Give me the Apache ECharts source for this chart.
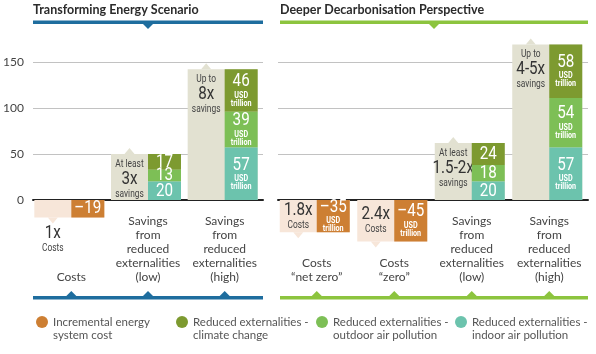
<!DOCTYPE html>
<html>
<head>
<meta charset="utf-8">
<script src="https://cdn.jsdelivr.net/npm/echarts@6/dist/echarts.min.js"></script>
<style>
  html, body { margin: 0; padding: 0; background: #fff; }
  #chart { width: 596px; height: 354px; }
</style>
</head>
<body>
<div id="chart"></div>
<script>
// Transforming Energy Scenario
const leftCategories = ['Costs', 'Savings\nfrom\nreduced\nexternalities\n(low)', 'Savings\nfrom\nreduced\nexternalities\n(high)'];
const leftCost = [-19, null, null];
const leftClimate = [null, 17, 46];
const leftOutdoor = [null, 13, 39];
const leftIndoor = [null, 20, 57];
const leftPrefix = ['', 'At least', 'Up to'];
const leftMultiple = ['1x', '3x', '8x'];
const leftSuffix = ['Costs', 'savings', 'savings'];

// Deeper Decarbonisation Perspective
const rightCategories = ['Costs\n“net zero”', 'Costs\n“zero”', 'Savings\nfrom\nreduced\nexternalities\n(low)', 'Savings\nfrom\nreduced\nexternalities\n(high)'];
const rightCost = [-35, -45, null, null];
const rightClimate = [null, null, 24, 58];
const rightOutdoor = [null, null, 18, 54];
const rightIndoor = [null, null, 20, 57];
const rightPrefix = ['', '', 'At least', 'Up to'];
const rightMultiple = ['1.8x', '2.4x', '1.5-2x', '4-5x'];
const rightSuffix = ['Costs', 'Costs', 'savings', 'savings'];

const yTicks = [0, 50, 100, 150];
const seriesNames = [
  'Incremental energy system cost',
  'Reduced externalities - climate change',
  'Reduced externalities - outdoor air pollution',
  'Reduced externalities - indoor air pollution'
];
const legendLabels = [
  ['Incremental energy', 'system cost'],
  ['Reduced externalities -', 'climate change'],
  ['Reduced externalities -', 'outdoor air pollution'],
  ['Reduced externalities -', 'indoor air pollution']
];

const COLORS = ['#cd7f33', '#7d9a30', '#7dbf56', '#6cc3ad'];
const BLUE = '#1e6d9e';
const GREEN = '#8cc43e';
const BAR_W = 33;
const NOTE_W = 37;
const legendLeft = [31, 171, 311, 450];

const chart = echarts.init(document.getElementById('chart'));

function condText(x, y, text, size, color, weight) {
  return {
    type: 'text', x: x, y: y, scaleX: 0.8,
    style: {
      text: text, x: 0, y: 0, textAlign: 'center', textVerticalAlign: 'middle',
      fontFamily: 'Roboto', fontSize: size, fontWeight: weight || 'normal', fill: color
    }
  };
}

function renderSegment(params, api) {
  const i = api.value(0);
  const a = api.coord([i, api.value(1)]);
  const b = api.coord([i, api.value(2)]);
  const v = api.value(3);
  const top = Math.min(a[1], b[1]);
  const h = Math.abs(a[1] - b[1]);
  const cx = a[0] + BAR_W / 2;
  const children = [{
    type: 'rect', shape: { x: a[0], y: top, width: BAR_W, height: h },
    style: { fill: api.visual('color') }
  }];
  const showUnit = Math.abs(v) >= 30;
  const blockH = showUnit ? 36 : 18;
  const y = top + (h - blockH) / 2;
  children.push(condText(cx, y + 9, String(v).replace('-', '–'), 19, '#fff'));
  if (showUnit) {
    children.push(condText(cx, y + 23, 'USD', 9, '#fff', 'bold'));
    children.push(condText(cx, y + 31, 'trillion', 9, '#fff', 'bold'));
  }
  return { type: 'group', children: children };
}

function makeNoteRender(prefix, multiple, suffix) {
  return function (params, api) {
    const i = api.value(0);
    const total = api.value(1);
    const a = api.coord([i, 0]);
    const b = api.coord([i, total]);
    const left = a[0] - NOTE_W;
    const mid = left + NOTE_W / 2;
    const top = Math.min(a[1], b[1]);
    const h = Math.abs(a[1] - b[1]);
    const isCost = total < 0;
    const children = [{
      type: 'rect', shape: { x: left, y: top, width: NOTE_W + BAR_W, height: h },
      style: { fill: isCost ? '#f7e6d9' : '#e2e1d1' }
    }];
    let ty;
    if (isCost) {
      children.push({ type: 'polygon', shape: { points: [[mid - 5, top + h], [mid + 5, top + h], [mid, top + h + 6]] }, style: { fill: '#f7e6d9' } });
      ty = h >= 26 ? top + (h - 30) / 2 : top + h + 7;
    } else {
      children.push({ type: 'polygon', shape: { points: [[mid - 5, top], [mid + 5, top], [mid, top - 6]] }, style: { fill: '#e2e1d1' } });
      ty = top + 4;
    }
    let y = ty;
    if (prefix[i]) {
      children.push(condText(mid, y + 6, prefix[i], 10.5, '#444'));
      y += 12;
    }
    children.push(condText(mid, y + 9, multiple[i], 19, '#333'));
    y += 18;
    children.push(condText(mid, y + 6, suffix[i], 10.5, '#444'));
    return { type: 'group', children: children };
  };
}

function segmentsFor(indoor, outdoor, climate, cost) {
  const out = [[], [], [], []];
  cost.forEach(function (v, i) { if (v != null) out[0].push([i, 0, v, v]); });
  indoor.forEach(function (v, i) {
    if (v == null) return;
    const b1 = v, b2 = v + outdoor[i], b3 = b2 + climate[i];
    out[3].push([i, 0, b1, v]);
    out[2].push([i, b1, b2, outdoor[i]]);
    out[1].push([i, b2, b3, climate[i]]);
  });
  return out;
}

function totalsFor(indoor, outdoor, climate, cost) {
  return cost.map(function (c, i) {
    return [i, c != null ? c : indoor[i] + outdoor[i] + climate[i]];
  });
}

const leftSeg = segmentsFor(leftIndoor, leftOutdoor, leftClimate, leftCost);
const rightSeg = segmentsFor(rightIndoor, rightOutdoor, rightClimate, rightCost);

const labelFont = { fontFamily: 'Lato', fontSize: 12, color: '#444', lineHeight: 14 };

function yAxisFor(gridIndex, showLabels) {
  return {
    type: 'value', gridIndex: gridIndex, min: -50, max: 200, interval: 50,
    axisLine: { show: false }, axisTick: { show: false },
    axisLabel: {
      show: showLabels, margin: 9, fontFamily: 'Lato', fontSize: 12, color: '#444',
      formatter: function (v) { return yTicks.indexOf(v) >= 0 ? String(v) : ''; }
    },
    splitLine: { showMinLine: false, showMaxLine: false, lineStyle: { color: '#c2c2c2', width: 1 } }
  };
}

function xAxisFor(gridIndex, cats) {
  return {
    type: 'category', gridIndex: gridIndex, data: cats,
    axisLine: { onZero: true, lineStyle: { color: '#222', width: 2 } },
    axisTick: { show: false },
    axisLabel: Object.assign({ interval: 0, margin: 38, verticalAlign: 'bottom' }, labelFont),
    splitLine: { show: false }
  };
}

const series = [];
[[0, leftCategories, leftPrefix, leftMultiple, leftSuffix, totalsFor(leftIndoor, leftOutdoor, leftClimate, leftCost), leftSeg],
 [1, rightCategories, rightPrefix, rightMultiple, rightSuffix, totalsFor(rightIndoor, rightOutdoor, rightClimate, rightCost), rightSeg]]
.forEach(function (p) {
  const g = p[0];
  series.push({
    type: 'custom', xAxisIndex: g, yAxisIndex: g, clip: false, silent: true,
    renderItem: makeNoteRender(p[2], p[3], p[4]), data: p[5], z: 1
  });
  p[6].forEach(function (data, k) {
    series.push({
      type: 'custom', name: seriesNames[k], xAxisIndex: g, yAxisIndex: g, clip: false,
      itemStyle: { color: COLORS[k] }, renderItem: renderSegment, data: data, z: 2
    });
  });
});

chart.setOption({
  animation: false,
  grid: [
    { left: 33, top: 16, width: 230, height: 230 },
    { left: 278, top: 16, width: 310, height: 230 }
  ],
  xAxis: [xAxisFor(0, leftCategories), xAxisFor(1, rightCategories)],
  yAxis: [yAxisFor(0, true), yAxisFor(1, false)],
  legend: seriesNames.map(function (n, i) {
    return {
      data: [n], left: legendLeft[i], top: 298, icon: 'circle',
      itemWidth: 12, itemHeight: 12, itemGap: 0, selectedMode: false,
      formatter: function () { return '{a| }\n{a|' + legendLabels[i][0] + '}\n{a|' + legendLabels[i][1] + '}'; },
      textStyle: {
        fontFamily: 'Lato', fontSize: 11.5, color: '#555',
        rich: { a: { fontFamily: 'Lato', fontSize: 11.5, color: '#555', lineHeight: 13 } }
      }
    };
  }),
  series: series
});

// title bars and bottom category markers
function tri(cx, y, dir, color) {
  return { type: 'polygon', shape: { points: [[cx - 5, y], [cx + 5, y], [cx, y + 5 * dir]] }, style: { fill: color } };
}
const deco = [];
[[0, leftCategories, 'Transforming Energy Scenario', 33, 263, BLUE],
 [1, rightCategories, 'Deeper Decarbonisation Perspective', 280, 588, GREEN]].forEach(function (p) {
  const x0 = p[3], x1 = p[4], color = p[5];
  deco.push({ type: 'text', x: x0, y: 10, style: { text: p[2], fontFamily: 'Lato', fontWeight: 'bold', fontSize: 12.5, fill: '#2b2b2b', textVerticalAlign: 'middle' } });
  deco.push({ type: 'rect', shape: { x: x0, y: 20.5, width: x1 - x0, height: 3.5 }, style: { fill: color } });
  deco.push(tri((x0 + x1) / 2, 24, 1, color));
  deco.push({ type: 'rect', shape: { x: x0, y: 296, width: x1 - x0, height: 3.5 }, style: { fill: color } });
  p[1].forEach(function (c, i) {
    const px = chart.convertToPixel({ xAxisIndex: p[0] }, i);
    deco.push(tri(px, 296, -1, color));
  });
});
chart.setOption({ graphic: deco });
</script>
</body>
</html>
